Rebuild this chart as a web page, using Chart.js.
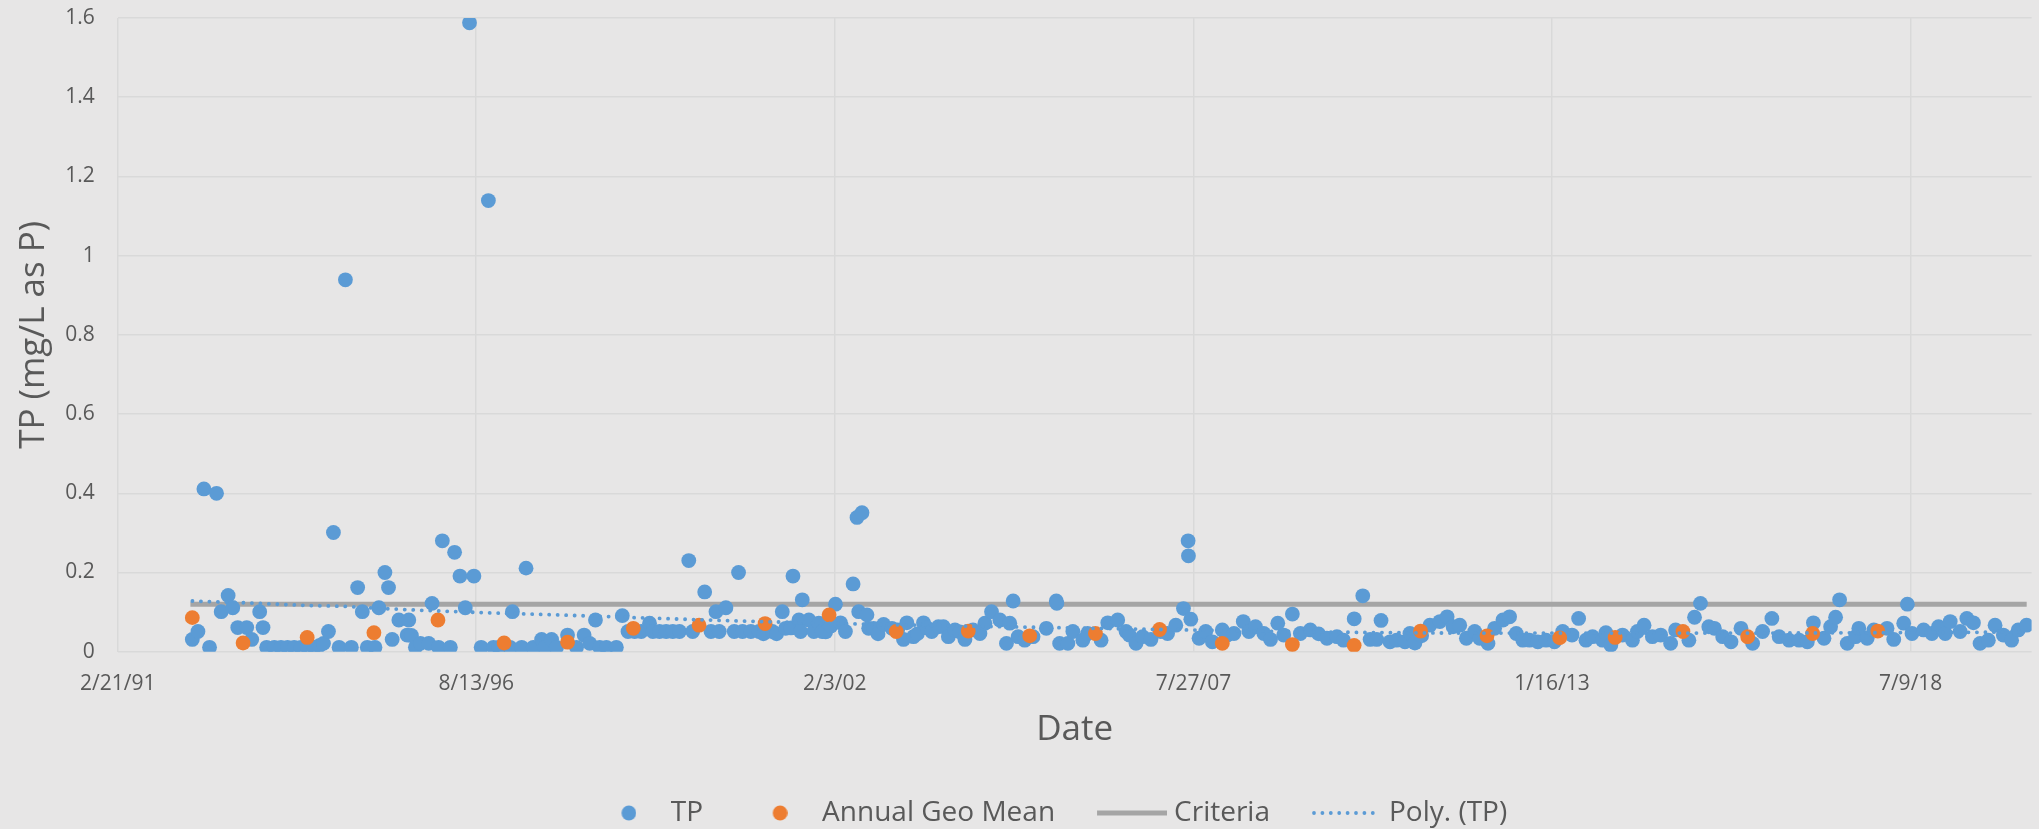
<!DOCTYPE html>
<html>
<head>
<meta charset="utf-8">
<script src="https://cdn.jsdelivr.net/npm/chart.js@4.4.1/dist/chart.umd.min.js"></script>
<style>
html,body{margin:0;padding:0;background:#E7E6E6;}
#wrap{width:2039px;height:829px;position:relative;}
</style>
</head>
<body>
<div id="wrap"><canvas id="c" width="2039" height="829"></canvas></div>
<script>
// ---- data (dates as decimal years) ----
const tickLabels = ['2/21/91', '8/13/96', '2/3/02', '7/27/07', '1/16/13', '7/9/18'];
const yTickValues = [0, 0.2, 0.4, 0.6, 0.8, 1, 1.2, 1.4, 1.6];
const xAxisMaxYear = 2020.365;

const tpDates = [
1992.279,1992.365,1992.456,1992.542,1992.649,1992.720,1992.826,1992.897,1992.973,1993.110,
1993.186,1993.308,1993.359,1993.414,1993.531,1993.633,1993.734,1993.835,1993.937,1994.038,
1994.140,1994.216,1994.282,1994.358,1994.434,1994.520,1994.617,1994.708,1994.804,1994.875,
1994.951,1995.068,1995.128,1995.220,1995.275,1995.331,1995.433,1995.560,1995.585,1995.625,
1995.686,1995.762,1995.889,1995.940,1996.040,1996.097,1996.219,1996.284,1996.366,1996.447,
1996.512,1996.579,1996.690,1996.800,1996.878,1996.960,1997.131,1997.167,1997.309,1997.375,
1997.486,1997.613,1997.664,1997.765,1997.841,1998.009,1998.146,1998.262,1998.348,1998.435,
1998.500,1998.602,1998.754,1998.845,1998.932,1999.033,1999.134,1999.261,1999.312,1999.413,
1999.515,1999.616,1999.718,1999.860,1999.920,2000.103,2000.199,2000.275,2000.326,2000.427,
2000.554,2000.620,2000.681,2000.808,2000.933,2001.000,2001.136,2001.200,2001.288,2001.339,
2001.420,2001.451,2001.542,2001.567,2001.593,2001.694,2001.770,2001.846,2001.897,2001.950,
2002.030,2002.100,2002.176,2002.252,2002.369,2002.429,2002.455,2002.505,2002.581,2002.607,
2002.683,2002.750,2002.835,2002.962,2003.050,2003.139,2003.190,2003.291,2003.350,2003.444,
2003.500,2003.570,2003.672,2003.748,2003.824,2003.925,2004.000,2004.077,2004.200,2004.306,
2004.382,2004.483,2004.610,2004.711,2004.762,2004.813,2004.889,2004.990,2005.117,2005.320,
2005.472,2005.480,2005.523,2005.649,2005.725,2005.877,2005.950,2006.156,2006.258,2006.410,
2006.537,2006.587,2006.689,2006.790,2006.917,2007.069,2007.171,2007.297,2007.414,2007.485,
2007.490,2007.526,2007.652,2007.754,2007.855,2008.007,2008.083,2008.185,2008.327,2008.413,
2008.514,2008.641,2008.743,2008.854,2008.945,2009.077,2009.199,2009.351,2009.478,2009.605,
2009.757,2009.858,2010.021,2010.152,2010.264,2010.365,2010.431,2010.568,2010.669,2010.796,
2010.872,2010.948,2011.050,2011.177,2011.329,2011.440,2011.531,2011.633,2011.734,2011.861,
2011.937,2012.064,2012.165,2012.292,2012.394,2012.495,2012.596,2012.698,2012.825,2012.951,
2013.078,2013.205,2013.347,2013.448,2013.560,2013.661,2013.813,2013.864,2013.940,2014.118,
2014.270,2014.346,2014.447,2014.574,2014.701,2014.853,2014.929,2015.132,2015.218,2015.309,
2015.436,2015.521,2015.648,2015.775,2015.927,2016.105,2016.257,2016.399,2016.510,2016.662,
2016.815,2016.941,2017.033,2017.195,2017.296,2017.372,2017.433,2017.550,2017.677,2017.727,
2017.854,2017.956,2018.158,2018.260,2018.412,2018.468,2018.539,2018.716,2018.843,2018.944,
2019.046,2019.122,2019.274,2019.376,2019.477,2019.578,2019.705,2019.807,2019.933,2020.060,
2020.161,2020.288
];
const tpValues = [
0.031,0.051,0.411,0.011,0.400,0.101,0.142,0.111,0.061,0.061,
0.031,0.101,0.061,0.011,0.011,0.011,0.011,0.011,0.011,0.011,
0.011,0.015,0.021,0.051,0.301,0.011,0.939,0.011,0.162,0.101,
0.011,0.011,0.111,0.200,0.162,0.031,0.080,0.042,0.080,0.041,
0.011,0.021,0.021,0.122,0.011,0.280,0.011,0.251,0.191,0.111,
1.588,0.191,0.011,1.139,0.011,0.011,0.011,0.101,0.011,0.211,
0.011,0.031,0.011,0.031,0.011,0.042,0.011,0.042,0.021,0.080,
0.011,0.011,0.011,0.091,0.051,0.051,0.051,0.072,0.051,0.051,
0.051,0.051,0.051,0.230,0.051,0.151,0.051,0.101,0.051,0.111,
0.051,0.200,0.051,0.051,0.051,0.045,0.051,0.045,0.101,0.059,
0.060,0.191,0.080,0.051,0.131,0.080,0.051,0.072,0.051,0.050,
0.065,0.120,0.073,0.051,0.171,0.339,0.101,0.351,0.093,0.059,
0.059,0.045,0.069,0.059,0.055,0.031,0.073,0.038,0.045,0.073,
0.060,0.051,0.063,0.063,0.038,0.055,0.050,0.031,0.055,0.046,
0.072,0.101,0.080,0.021,0.072,0.128,0.038,0.029,0.038,0.059,
0.128,0.122,0.021,0.021,0.051,0.029,0.046,0.029,0.073,0.080,
0.051,0.042,0.021,0.038,0.031,0.051,0.046,0.067,0.109,0.280,
0.242,0.082,0.034,0.051,0.025,0.055,0.042,0.046,0.076,0.051,
0.063,0.046,0.031,0.072,0.042,0.095,0.046,0.055,0.045,0.034,
0.038,0.029,0.083,0.141,0.031,0.031,0.079,0.025,0.029,0.025,
0.046,0.022,0.040,0.067,0.076,0.088,0.063,0.067,0.034,0.051,
0.034,0.021,0.059,0.080,0.088,0.046,0.029,0.029,0.025,0.029,
0.025,0.051,0.042,0.084,0.029,0.038,0.029,0.048,0.017,0.042,
0.029,0.051,0.067,0.038,0.042,0.021,0.055,0.029,0.087,0.122,
0.063,0.059,0.038,0.025,0.059,0.021,0.051,0.084,0.038,0.029,
0.029,0.025,0.073,0.034,0.063,0.087,0.131,0.021,0.038,0.059,
0.034,0.055,0.059,0.031,0.072,0.120,0.046,0.055,0.046,0.063,
0.046,0.076,0.051,0.084,0.073,0.021,0.029,0.067,0.042,0.029,
0.055,0.067
];

const geoDates = [1992.279,1993.054,1994.033,1995.052,1996.030,1997.040,1998.009,1999.013,2000.017,
  2001.025,2002.003,2003.028,2004.128,2005.066,2006.070,2007.049,2008.007,2009.077,2010.020,
  2011.035,2012.049,2013.159,2014.006,2015.041,2016.029,2017.022,2018.016];
const geoValues = [0.086,0.022,0.036,0.048,0.080,0.022,0.024,0.059,0.067,
  0.071,0.093,0.051,0.052,0.040,0.046,0.056,0.021,0.018,0.016,
  0.052,0.040,0.035,0.036,0.051,0.038,0.046,0.052];

const criteriaDates = [1992.25, 2020.29];
const criteriaValues = [0.12, 0.12];

const trendDates = [1992.28,1993.0,1994.0,1994.65,1995.31,1996.0,1996.67,1997.44,1998.2,1999.06,
  2000.17,2001.0,2002.45,2004.0,2006.08,2007.46,2009.0,2010.6,2012.0,2014.0,2016.0,2018.0,2019.58,2020.29];
const trendValues = [0.128,0.124,0.117,0.114,0.108,0.103,0.099,0.095,0.091,0.086,
  0.080,0.076,0.070,0.065,0.059,0.055,0.051,0.048,0.047,0.047,0.047,0.048,0.049,0.050];

// ---- helpers ----
function toYear(s) {
  const [m, d, y] = s.split('/').map(Number);
  const yr = y < 50 ? 2000 + y : 1900 + y;
  const start = Date.UTC(yr, 0, 1), end = Date.UTC(yr + 1, 0, 1);
  return yr + (Date.UTC(yr, m - 1, d) - start) / (end - start);
}
const pairs = (xs, ys) => xs.map((x, i) => ({x: x, y: ys[i]}));
const tickYears = tickLabels.map(toYear);

const BLUE = '#5B9BD5', ORANGE = '#ED7D31', GRAY = '#A5A5A5', TEXT = '#595959', GRID = '#D9D9D9';
const FONT = "'Open Sans', 'DejaVu Sans', sans-serif";
const LEGEND_CENTER_Y = 813;
const LEGEND_SHIFT_X = 10;

// legend symbol images (shifted right inside a wide legend box)
const SHIFT = 24.5;
function circleImg(color) {
  const sw = 15, c = document.createElement('canvas');
  c.width = sw + 2 * SHIFT; c.height = 16;
  const g = c.getContext('2d');
  g.fillStyle = color; g.beginPath(); g.arc(2 * SHIFT + sw / 2, 8, 7.4, 0, Math.PI * 2); g.fill();
  return c;
}
function lineImg() {
  const sw = 70, c = document.createElement('canvas');
  c.width = sw + 2 * SHIFT; c.height = 6;
  const g = c.getContext('2d');
  g.fillStyle = GRAY; g.fillRect(2 * SHIFT, 0.5, sw, 5);
  return c;
}
function dotImg() {
  const sw = 70, c = document.createElement('canvas');
  c.width = sw + 2 * SHIFT; c.height = 4;
  const g = c.getContext('2d');
  g.fillStyle = BLUE;
  for (let x = 2 * SHIFT + 2; x <= 2 * SHIFT + sw - 1; x += 8.4) {
    g.beginPath(); g.arc(x, 2, 1.9, 0, Math.PI * 2); g.fill();
  }
  return c;
}
const legendImgs = [circleImg(BLUE), circleImg(ORANGE), lineImg(), dotImg()];

const bgPlugin = {
  id: 'bg',
  beforeDraw(chart) {
    const ctx = chart.ctx;
    ctx.save(); ctx.fillStyle = '#E7E6E6'; ctx.fillRect(0, 0, chart.width, chart.height); ctx.restore();
  }
};
const legendPlace = {
  id: 'legendPlace',
  afterLayout(chart) {
    const lg = chart.legend;
    const lab = lg.options.labels;
    const top = LEGEND_CENTER_Y - lab.padding - lab.font.size / 2;
    lg.top = top;
    lg.bottom = top + lg.height;
    lg.left += LEGEND_SHIFT_X;
    lg.right += LEGEND_SHIFT_X;
  }
};

new Chart(document.getElementById('c'), {
  type: 'scatter',
  data: {
    datasets: [
      { label: 'TP', data: pairs(tpDates, tpValues), order: 2,
        backgroundColor: BLUE, borderColor: BLUE, pointRadius: 7.4, pointHoverRadius: 7.4, pointBorderWidth: 0 },
      { label: 'Annual Geo Mean', data: pairs(geoDates, geoValues), order: 1,
        backgroundColor: ORANGE, borderColor: ORANGE, pointRadius: 7.4, pointHoverRadius: 7.4, pointBorderWidth: 0 },
      { label: 'Criteria', data: pairs(criteriaDates, criteriaValues), order: 3, showLine: true,
        borderColor: GRAY, backgroundColor: GRAY, borderWidth: 5, pointRadius: 0, pointHoverRadius: 0, borderCapStyle: 'butt' },
      { label: 'Poly. (TP)', data: pairs(trendDates, trendValues), order: 0, showLine: true,
        borderColor: BLUE, backgroundColor: BLUE, borderWidth: 3.8, borderDash: [0.1, 8.4], borderCapStyle: 'round',
        cubicInterpolationMode: 'monotone', pointRadius: 0, pointHoverRadius: 0 }
    ]
  },
  options: {
    responsive: false,
    animation: false,
    devicePixelRatio: 1,
    layout: { padding: { left: 0, right: 0, top: 18, bottom: 0 } },
    plugins: {
      tooltip: { enabled: false },
      legend: {
        position: 'bottom',
        align: 'center',
        labels: {
          usePointStyle: true,
          pointStyleWidth: 105,
          boxHeight: 15,
          padding: 0,
          color: TEXT,
          font: { family: FONT, size: 28 },
          sort: (a, b) => a.datasetIndex - b.datasetIndex,
          generateLabels(chart) {
            const items = Chart.defaults.plugins.legend.labels.generateLabels(chart);
            items.forEach(it => { it.pointStyle = legendImgs[it.datasetIndex]; it.lineWidth = 0; });
            return items;
          }
        }
      }
    },
    scales: {
      x: {
        type: 'linear',
        min: tickYears[0],
        max: xAxisMaxYear,
        afterBuildTicks(axis) { axis.ticks = tickYears.map(v => ({ value: v })); },
        afterFit(axis) { axis.height = 139.3; },
        grid: { color: GRID, lineWidth: 1.5, drawTicks: false },
        border: { display: false },
        ticks: {
          padding: 20, color: TEXT, font: { family: FONT, size: 21 }, autoSkip: false, maxRotation: 0,
          callback: (v, i) => tickLabels[i]
        },
        title: { display: true, text: 'Date', color: TEXT, font: { family: FONT, size: 35 },
          padding: { top: 0, bottom: 39.5 } }
      },
      y: {
        min: 0, max: 1.6,
        afterBuildTicks(axis) { axis.ticks = yTickValues.map(v => ({ value: v })); },
        afterFit(axis) { axis.width = 117.7; },
        grid: { color: GRID, lineWidth: 1.5, drawTicks: true, tickLength: 23, tickColor: 'rgba(0,0,0,0)' },
        border: { display: false },
        ticks: { padding: 0, color: TEXT, font: { family: FONT, size: 21 },
          callback: v => String(+v.toFixed(1)) },
        title: { display: true, text: 'TP (mg/L as P)', color: TEXT, font: { family: FONT, size: 35 },
          padding: { top: 13.5, bottom: 0 } }
      }
    }
  },
  plugins: [bgPlugin, legendPlace]
});
</script>
</body>
</html>
